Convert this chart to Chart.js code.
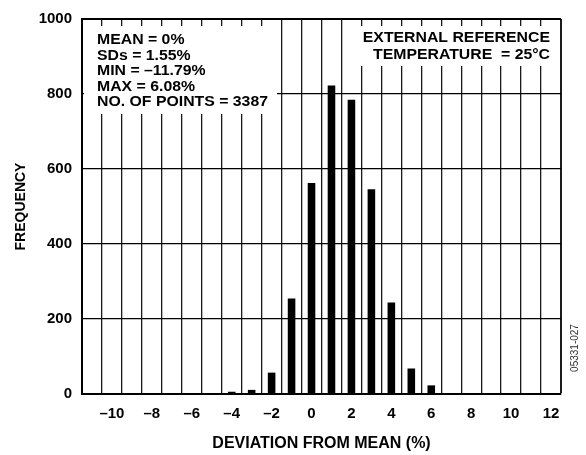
<!DOCTYPE html>
<html lang="en">
<head>
<meta charset="UTF-8">
<title>Deviation From Mean Histogram</title>
<script src="https://cdn.jsdelivr.net/npm/chart.js"></script>
<style>
  html, body { margin: 0; padding: 0; background: #fff; }
  #wrap { width: 586px; height: 455px; }
</style>
</head>
<body>
<div id="wrap"><canvas id="hist" width="586" height="455"></canvas></div>
<script>
// bins (deviation from mean, %) and counts
const deviation = [-11, -10, -9, -8, -7, -6, -5, -4, -3, -2, -1, 0, 1, 2, 3, 4, 5, 6, 7, 8, 9, 10, 11, 12];
const frequency = [0, 2, 0, 0, 0, 0, 0, 6, 11, 57, 255, 563, 823, 785, 546, 244, 68, 23, 2, 2, 0, 0, 0, 0];
const freqMin = 0;
const freqMax = 1000;
const freqStep = 200;
const statsLines = ["MEAN = 0%", "SDs = 1.55%", "MIN = \u201311.79%", "MAX = 6.08%", "NO. OF POINTS = 3387"];
const conditionLines = ["EXTERNAL REFERENCE", "TEMPERATURE  = 25\u00B0C"];
const figureCode = "05331-027";

const FONT = "'Liberation Sans', Arial, Helvetica, sans-serif";

function dash(v) {
    return v < 0 ? "\u2013" + Math.abs(v) : String(v);
}

// white boxes with the stats text, drawn over the grid
const notesPlugin = {
    id: "notes",
    beforeDatasetsDraw(chart) {
        const { ctx, chartArea: a } = chart;
        ctx.save();
        ctx.fillStyle = "#fff";
        ctx.fillRect(a.left + 2, a.top + 7, 193, 88);
        ctx.fillRect(a.right - 206, a.top + 7, 204, 40);

        ctx.fillStyle = "#000";
        ctx.font = "bold 14px " + FONT;
        ctx.textBaseline = "alphabetic";
        ctx.textAlign = "left";
        statsLines.forEach((t, i) => {
            ctx.save();
            ctx.translate(a.left + 15, a.top + 25 + i * 15.6);
            ctx.scale(1.13, 1);
            ctx.fillText(t, 0, 0);
            ctx.restore();
        });
        ctx.textAlign = "right";
        conditionLines.forEach((t, i) => {
            ctx.save();
            ctx.translate(a.right - 11, a.top + 23 + i * 17);
            ctx.scale(1.13, 1);
            ctx.fillText(t, 0, 0);
            ctx.restore();
        });
        ctx.restore();
    },
    afterDraw(chart) {
        const { ctx, chartArea: a } = chart;
        ctx.save();
        ctx.translate(a.right + 14, a.bottom - 46);
        ctx.rotate(-Math.PI / 2);
        ctx.font = "10px " + FONT;
        ctx.fillStyle = "#333";
        ctx.textAlign = "center";
        ctx.textBaseline = "middle";
        ctx.fillText(figureCode, 0, 0);
        ctx.restore();
    }
};

const ctx = document.getElementById("hist").getContext("2d");
new Chart(ctx, {
    type: "bar",
    data: {
        labels: deviation,
        datasets: [{
            data: frequency,
            backgroundColor: "#000",
            borderWidth: 0,
            barPercentage: 0.38,
            categoryPercentage: 1.0
        }]
    },
    options: {
        responsive: false,
        devicePixelRatio: 1,
        animation: false,
        layout: { padding: { top: 11, right: 25, bottom: 0, left: 0 } },
        plugins: {
            legend: { display: false },
            tooltip: { enabled: false }
        },
        scales: {
            x: {
                type: "category",
                offset: true,
                grid: {
                    offset: true,
                    color: "#1a1a1a",
                    lineWidth: (c) => (c.tick ? 1.3 : 2),
                    drawTicks: false
                },
                border: { color: "#000", width: 2 },
                ticks: {
                    autoSkip: false,
                    maxRotation: 0,
                    padding: 11,
                    color: "#000",
                    font: { family: FONT, size: 15, weight: "bold" },
                    callback: function (value, index) {
                        const v = deviation[index];
                        return v % 2 === 0 ? dash(v) : "";
                    }
                },
                title: {
                    display: true,
                    text: "DEVIATION FROM MEAN (%)",
                    color: "#000",
                    font: { family: FONT, size: 16, weight: "bold" },
                    padding: { top: 0, bottom: 2 }
                },
                afterFit(scale) { scale.height = 61; }
            },
            y: {
                min: freqMin,
                max: freqMax,
                grid: {
                    color: "#000",
                    lineWidth: (c) => (c.tick && c.tick.value === freqMax ? 2 : 1.3),
                    drawTicks: false
                },
                border: { color: "#000", width: 2 },
                ticks: {
                    stepSize: freqStep,
                    padding: 10,
                    color: "#000",
                    font: { family: FONT, size: 15, weight: "bold" },
                    callback: (v) => String(v)
                },
                title: {
                    display: true,
                    text: "FREQUENCY",
                    color: "#000",
                    font: { family: FONT, size: 14, weight: "bold" },
                    padding: { top: 13, bottom: 0 }
                },
                afterFit(scale) { scale.width = 82; }
            }
        }
    },
    plugins: [notesPlugin]
});
</script>
</body>
</html>
